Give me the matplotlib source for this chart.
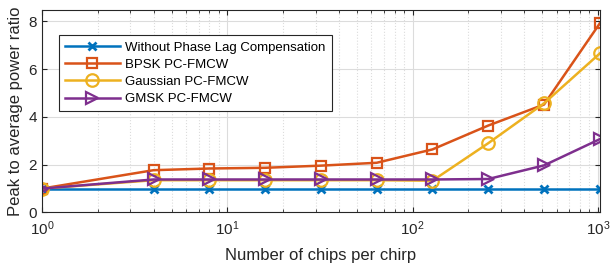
import matplotlib
matplotlib.use("Agg")
import matplotlib.pyplot as plt
from matplotlib.ticker import LogLocator, NullFormatter

plt.rcParams['font.family'] = ['Liberation Sans', 'DejaVu Sans']

chips = [1, 4, 8, 16, 32, 64, 128, 256, 512, 1024]
without_plc = [1.0, 1.0, 1.0, 1.0, 1.0, 1.0, 1.0, 1.0, 1.0, 1.0]
bpsk = [1.0, 1.77, 1.84, 1.87, 1.96, 2.08, 2.64, 3.64, 4.52, 7.92]
gaussian = [1.0, 1.35, 1.35, 1.35, 1.35, 1.35, 1.33, 2.9, 4.57, 6.66]
gmsk = [1.0, 1.38, 1.38, 1.38, 1.38, 1.38, 1.38, 1.40, 1.97, 3.07]

labels = ["Without Phase Lag Compensation", "BPSK PC-FMCW",
          "Gaussian PC-FMCW", "GMSK PC-FMCW"]

fig = plt.figure(figsize=(6.11, 2.72), dpi=100)
ax = fig.add_axes([0.0687, 0.219, 0.913, 0.746])

ax.plot(chips, without_plc, color="#0072BD", lw=1.8, marker="x", ms=6, mew=2, label=labels[0])
ax.plot(chips, bpsk, color="#D95319", lw=1.8, marker="s", ms=7, mfc="none", mew=1.6, label=labels[1])
ax.plot(chips, gaussian, color="#EDB120", lw=1.8, marker="o", ms=9, mfc="none", mew=1.6, label=labels[2])
ax.plot(chips, gmsk, color="#7E2F8E", lw=1.8, marker=">", ms=9, mfc="none", mew=1.6, label=labels[3])

ax.set_xscale("log")
ax.set_xlim(1, 1024)
ax.set_ylim(0, 8.5)
ax.set_yticks([0, 2, 4, 6, 8])
ax.xaxis.set_minor_locator(LogLocator(base=10, subs=range(2, 10)))
ax.xaxis.set_minor_formatter(NullFormatter())

ax.grid(True, which="major", color="#dcdcdc", lw=0.8)
ax.grid(True, which="minor", axis="x", color="#dcdcdc", lw=0.8, ls=":")
ax.set_axisbelow(True)
ax.tick_params(which="both", direction="in", top=True, right=True, labelsize=11, colors="#262626")
ax.tick_params(axis="x", pad=5)
for s in ax.spines.values():
    s.set_color("#262626")
    s.set_linewidth(0.8)

ax.set_xlabel("Number of chips per chirp", fontsize=12, color="#262626", labelpad=7)
ax.set_ylabel("Peak to average power ratio", fontsize=12, color="#262626")

leg = ax.legend(loc="upper left", bbox_to_anchor=(0.018, 0.905), fontsize=9.5,
                handlelength=4.2, fancybox=False, framealpha=1, edgecolor="#262626",
                borderpad=0.45, labelspacing=0.38, handletextpad=0.4)
leg.get_frame().set_linewidth(0.8)

fig.savefig("out.png", dpi=100)
